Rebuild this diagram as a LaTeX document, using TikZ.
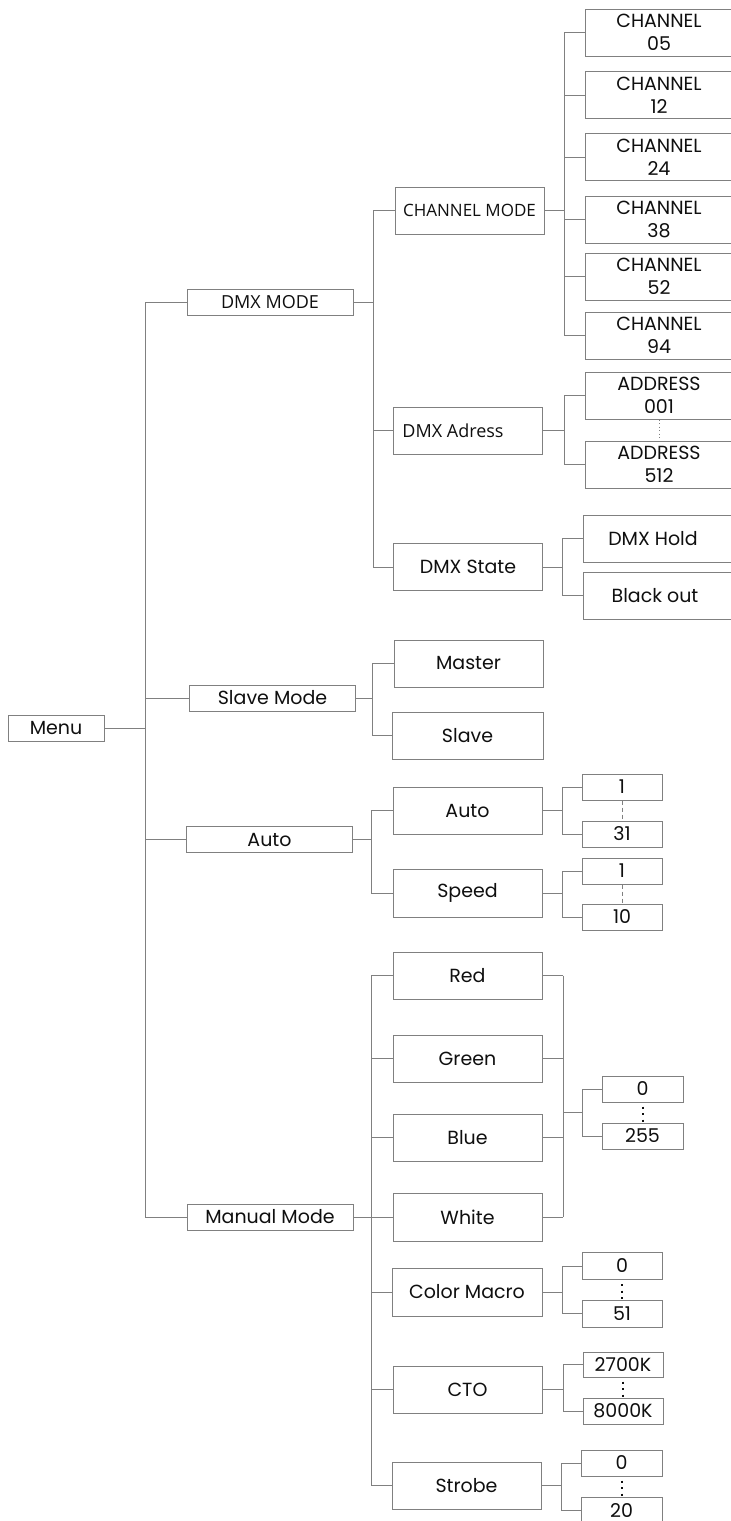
\documentclass[tikz,border=0pt]{standalone}
\usepackage{fontspec}
\usetikzlibrary{calc}
\setmainfont{Poppins}
\newfontfamily\osans{Open Sans}
\definecolor{linec}{RGB}{128,128,128}
\definecolor{textc}{RGB}{15,15,15}
\begin{document}
\begin{tikzpicture}[x=1pt,y=-1pt]
\tikzset{
  box/.style={draw=linec, line width=1pt, inner sep=0pt, align=center, text=textc, font=\fontsize{19}{23}\selectfont},
  os/.style={font=\osans\fontsize{18}{22}\selectfont},
  lone/.style={box, minimum width=166pt, minimum height=26pt},
  big/.style={box, minimum width=149pt, minimum height=47pt},
  edgebox/.style={box, minimum width=148pt, minimum height=47pt},
  small/.style={box, minimum width=80pt, minimum height=26pt},
  conn/.style={draw=linec, line width=1pt},
  dotsline/.style={draw=textc, line width=2pt, dash pattern=on 2pt off 4.5pt},
  finedots/.style={draw=linec, line width=1pt, dash pattern=on 1pt off 2.5pt},
  dashline/.style={draw=linec, line width=1pt, dash pattern=on 4pt off 3pt}
}
\useasboundingbox (0,0) rectangle (731,1521);
\fill[white] (0,0) rectangle (731,1521);

% level 0
\node[box, minimum width=96pt, minimum height=26pt] (menu) at (56,728) {Menu};
% level 1
\node[lone, os] (dmxmode) at (270,302) {DMX MODE};
\node[lone] (slavemode) at (272.5,698) {Slave Mode};
\node[lone] (auto) at (269.5,839.5) {Auto};
\node[lone] (manual) at (270,1217) {Manual Mode};
% DMX MODE children
\node[big, os, font=\osans\fontsize{17}{21}\selectfont] (chmode) at (469.5,210.5) {CHANNEL MODE};
\node[big, os] (dmxadr) at (468,430.5) {\hspace*{-30pt}DMX Adress};
\node[big] (dmxstate) at (468,567) {DMX State};
% channels
\node[edgebox] (ch05) at (659,32.5) {CHANNEL\\05};
\node[edgebox] (ch12) at (659,95) {CHANNEL\\12};
\node[edgebox] (ch24) at (659,157) {CHANNEL\\24};
\node[edgebox] (ch38) at (659,219.5) {CHANNEL\\38};
\node[edgebox] (ch52) at (659,276.5) {CHANNEL\\52};
\node[edgebox] (ch94) at (659,335.5) {CHANNEL\\94};
% addresses
\node[edgebox] (adr001) at (659,395.5) {ADDRESS\\001};
\node[edgebox] (adr512) at (659,464.5) {ADDRESS\\512};
% state
\node[edgebox, minimum width=150pt] (hold) at (658,538.5) {\hspace*{-10pt}DMX Hold};
\node[edgebox, minimum width=150pt] (blackout) at (658,595.5) {\hspace*{-6pt}Black out};
% slave mode children
\node[big] (master) at (468.5,663.5) {Master};
\node[big, minimum width=151pt] (slave) at (467.5,735.5) {Slave};
% auto children
\node[big] (autob) at (467.5,810.5) {Auto};
\node[big, minimum height=48pt] (speed) at (467.5,893) {Speed};
\node[small] (a1) at (622,787) {1};
\node[small] (a31) at (622,834) {31};
\node[small] (s1) at (622,871) {1};
\node[small] (s10) at (622,917) {10};
% manual children
\node[big] (red) at (467.5,975.5) {Red};
\node[big] (green) at (467.5,1058.5) {Green};
\node[big] (blue) at (467.5,1137.5) {Blue};
\node[big, minimum height=48pt] (white) at (467.5,1217) {White};
\node[big, minimum width=150pt, minimum height=48pt] (cmacro) at (467,1292) {Color Macro};
\node[big] (cto) at (467.5,1389.5) {CTO};
\node[big] (strobe) at (466.5,1485.5) {Strobe};
\node[small, minimum width=81pt] (v0) at (642.5,1089) {0};
\node[small, minimum width=81pt] (v255) at (642.5,1136) {255};
\node[small, minimum height=27pt] (cm0) at (622,1266) {0};
\node[small, minimum height=27pt] (cm51) at (622,1313.5) {51};
\node[small, minimum height=25pt] (k2700) at (623,1364.5) {2700K};
\node[small] (k8000) at (623,1411) {8000K};
\node[small, minimum width=81pt] (st0) at (621.5,1463) {0};
\node[small, minimum width=81pt] (st20) at (621.5,1510) {20};

% bus x positions
\coordinate (b1) at (145,0);
\coordinate (bdmx) at (373,0);
\coordinate (bch) at (564,0);
\coordinate (badr) at (564,0);
\coordinate (bst) at (562,0);
\coordinate (bsl) at (372,0);
\coordinate (bau) at (371,0);
\coordinate (bauto) at (562,0);
\coordinate (bman) at (371,0);
\coordinate (brgb) at (563,0);
\coordinate (bval) at (582,0);
\coordinate (bcm) at (562,0);
\coordinate (bcto) at (563,0);
\coordinate (bstr) at (561,0);

% menu level
\draw[conn] (menu.east) -- (menu.east -| b1);
\draw[conn] (dmxmode.west -| b1) -- (manual.west -| b1);
\foreach \n in {dmxmode,slavemode,auto,manual} \draw[conn] (\n.west) -- (\n.west -| b1);

% DMX MODE
\draw[conn] (dmxmode.east) -- (dmxmode.east -| bdmx);
\draw[conn] (chmode.west -| bdmx) -- (dmxstate.west -| bdmx);
\foreach \n in {chmode,dmxadr,dmxstate} \draw[conn] (\n.west) -- (\n.west -| bdmx);

% channels
\draw[conn] (chmode.east) -- (chmode.east -| bch);
\draw[conn] (ch05.west -| bch) -- (ch94.west -| bch);
\foreach \n in {ch05,ch12,ch24,ch38,ch52,ch94} \draw[conn] (\n.west) -- (\n.west -| bch);

% addresses
\draw[conn] (dmxadr.east) -- (dmxadr.east -| badr);
\draw[conn] (adr001.west -| badr) -- (adr512.west -| badr);
\foreach \n in {adr001,adr512} \draw[conn] (\n.west) -- (\n.west -| badr);
\draw[finedots] (adr001.south) -- (adr512.north);

% state
\draw[conn] (dmxstate.east) -- (dmxstate.east -| bst);
\draw[conn] (hold.west -| bst) -- (blackout.west -| bst);
\foreach \n in {hold,blackout} \draw[conn] (\n.west) -- (\n.west -| bst);

% slave mode
\draw[conn] (slavemode.east) -- (slavemode.east -| bsl);
\draw[conn] (master.west -| bsl) -- (slave.west -| bsl);
\foreach \n in {master,slave} \draw[conn] (\n.west) -- (\n.west -| bsl);

% auto
\draw[conn] (auto.east) -- (auto.east -| bau);
\draw[conn] (autob.west -| bau) -- (speed.west -| bau);
\foreach \n in {autob,speed} \draw[conn] (\n.west) -- (\n.west -| bau);
\draw[conn] (autob.east) -- (autob.east -| bauto);
\draw[conn] (a1.west -| bauto) -- (a31.west -| bauto);
\foreach \n in {a1,a31} \draw[conn] (\n.west) -- (\n.west -| bauto);
\draw[dashline] (a1.south) -- (a31.north);
\draw[conn] (speed.east) -- (speed.east -| bauto);
\draw[conn] (s1.west -| bauto) -- (s10.west -| bauto);
\foreach \n in {s1,s10} \draw[conn] (\n.west) -- (\n.west -| bauto);
\draw[dashline] (s1.south) -- (s10.north);

% manual
\draw[conn] (manual.east) -- (manual.east -| bman);
\draw[conn] (red.west -| bman) -- (strobe.west -| bman);
\foreach \n in {red,green,blue,white,cmacro,cto,strobe} \draw[conn] (\n.west) -- (\n.west -| bman);
% rgbw
\draw[conn] (red.east -| brgb) -- (white.east -| brgb);
\foreach \n in {red,green,blue,white} \draw[conn] (\n.east) -- (\n.east -| brgb);
\coordinate (rgbmid) at ($(v0.west)!0.5!(v255.west)$);
\draw[conn] (rgbmid -| brgb) -- (rgbmid -| bval);
\draw[conn] (v0.west -| bval) -- (v255.west -| bval);
\foreach \n in {v0,v255} \draw[conn] (\n.west) -- (\n.west -| bval);
\draw[dotsline] (v0.south) ++(0,4) -- (v255.north);
% color macro
\draw[conn] (cmacro.east) -- (cmacro.east -| bcm);
\draw[conn] (cm0.west -| bcm) -- (cm51.west -| bcm);
\foreach \n in {cm0,cm51} \draw[conn] (\n.west) -- (\n.west -| bcm);
\draw[dotsline] (cm0.south) ++(0,4) -- (cm51.north);
% cto
\draw[conn] (cto.east) -- (cto.east -| bcto);
\draw[conn] (k2700.west -| bcto) -- (k8000.west -| bcto);
\foreach \n in {k2700,k8000} \draw[conn] (\n.west) -- (\n.west -| bcto);
\draw[dotsline] (k2700.south) ++(0,4) -- (k8000.north);
% strobe
\draw[conn] (strobe.east) -- (strobe.east -| bstr);
\draw[conn] (st0.west -| bstr) -- (st20.west -| bstr);
\foreach \n in {st0,st20} \draw[conn] (\n.west) -- (\n.west -| bstr);
\draw[dotsline] (st0.south) ++(0,4) -- (st20.north);
\end{tikzpicture}
\end{document}
